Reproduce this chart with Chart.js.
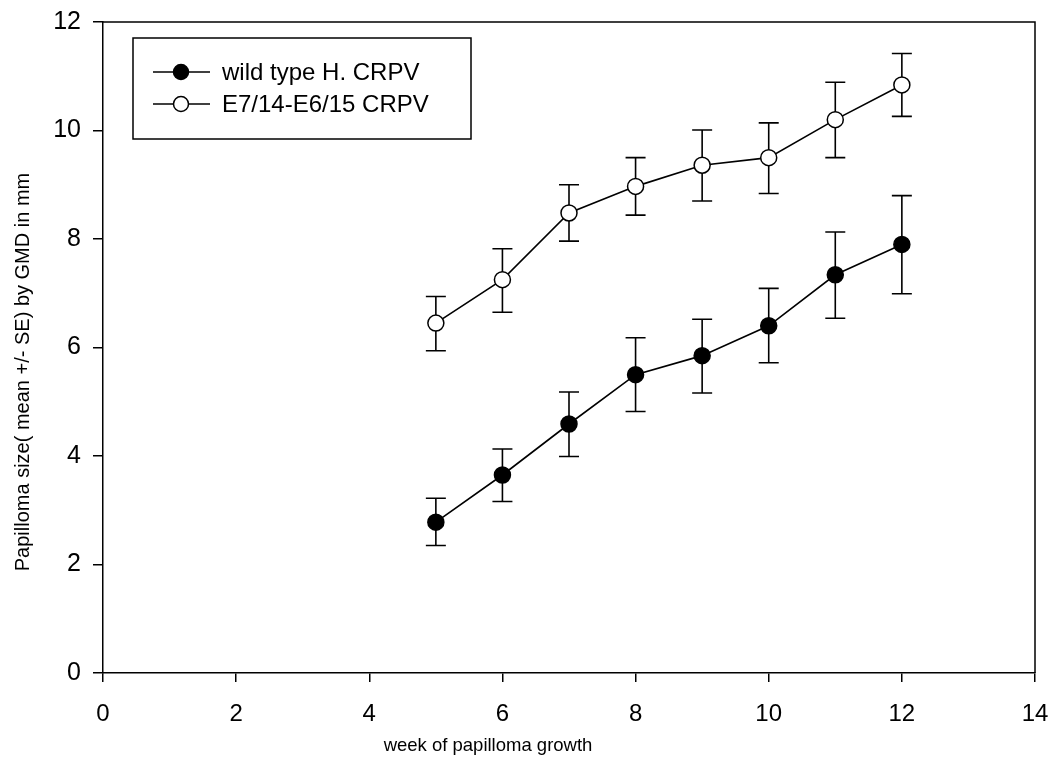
<!DOCTYPE html>
<html>
<head>
<meta charset="utf-8">
<script src="https://cdn.jsdelivr.net/npm/chart.js@4.4.1/dist/chart.umd.min.js"></script>
<style>
  html, body { margin: 0; padding: 0; background: #fff; }
  #wrap { width: 1050px; height: 763px; }
</style>
</head>
<body>
<div id="wrap"><canvas id="chart" width="1050" height="763"></canvas></div>
<script>
// weeks
const weeks = [5, 6, 7, 8, 9, 10, 11, 12];

// wild type H. CRPV
const wildMean = [2.78, 3.65, 4.59, 5.50, 5.85, 6.40, 7.34, 7.90];
const wildHigh = [3.22, 4.13, 5.18, 6.18, 6.52, 7.09, 8.13, 8.80];
const wildLow = [2.35, 3.16, 3.99, 4.82, 5.16, 5.72, 6.54, 6.99];

// E7/14-E6/15 CRPV
const mutMean = [6.45, 7.25, 8.48, 8.97, 9.36, 9.50, 10.20, 10.84];
const mutHigh = [6.94, 7.82, 9.00, 9.50, 10.01, 10.14, 10.89, 11.42];
const mutLow = [5.94, 6.65, 7.96, 8.44, 8.70, 8.84, 9.50, 10.26];

const xTicks = [0, 2, 4, 6, 8, 10, 12, 14];
const yTicks = [0, 2, 4, 6, 8, 10, 12];

const labelFont = "'Liberation Sans', Arial, sans-serif";

function toPoints(xs, ys, lo, hi) {
  return xs.map((x, i) => ({ x: x, y: ys[i], lo: lo[i], hi: hi[i] }));
}

// error bars, drawn under the markers
const errorBars = {
  id: 'errorBars',
  beforeDatasetsDraw(chart) {
    const ctx = chart.ctx;
    const xs = chart.scales.x, ys = chart.scales.y;
    ctx.save();
    ctx.strokeStyle = '#000';
    ctx.lineWidth = 1.6;
    chart.data.datasets.forEach(ds => {
      ds.data.forEach(p => {
        const px = xs.getPixelForValue(p.x);
        const top = ys.getPixelForValue(p.hi);
        const bot = ys.getPixelForValue(p.lo);
        ctx.beginPath();
        ctx.moveTo(px, top); ctx.lineTo(px, bot);
        ctx.moveTo(px - 10, top); ctx.lineTo(px + 10, top);
        ctx.moveTo(px - 10, bot); ctx.lineTo(px + 10, bot);
        ctx.stroke();
      });
    });
    ctx.restore();
  }
};

// frame, legend box and axis titles
const extras = {
  id: 'extras',
  afterDraw(chart) {
    const ctx = chart.ctx;
    const a = chart.chartArea;
    ctx.save();
    ctx.strokeStyle = '#000';
    ctx.lineWidth = 1.5;
    ctx.beginPath();
    ctx.moveTo(a.left, a.top); ctx.lineTo(a.right, a.top); ctx.lineTo(a.right, a.bottom);
    ctx.stroke();

    // legend
    ctx.strokeRect(133, 38, 338, 101);
    const rows = [72, 104];
    chart.data.datasets.forEach((ds, i) => {
      const y = rows[i];
      ctx.beginPath();
      ctx.moveTo(153, y); ctx.lineTo(210, y);
      ctx.stroke();
      ctx.beginPath();
      ctx.arc(181, y, 7.5, 0, Math.PI * 2);
      ctx.fillStyle = ds.pointBackgroundColor;
      ctx.fill();
      ctx.stroke();
      ctx.fillStyle = '#000';
      ctx.font = '24px ' + labelFont;
      ctx.textBaseline = 'middle';
      ctx.textAlign = 'left';
      ctx.fillText(ds.label, 222, y + 1);
    });

    // axis titles
    ctx.fillStyle = '#000';
    ctx.textAlign = 'center';
    ctx.textBaseline = 'middle';
    ctx.font = "18.5px 'Liberation Sans Narrow', " + labelFont;
    ctx.fillText('week of papilloma growth', 488, 746);

    ctx.translate(23, 372);
    ctx.rotate(-Math.PI / 2);
    ctx.font = '20px ' + labelFont;
    ctx.fillText('Papilloma size( mean +/- SE) by GMD in mm', 0, 0);
    ctx.restore();
  }
};

new Chart(document.getElementById('chart'), {
  type: 'line',
  data: {
    datasets: [
      {
        label: 'wild type H. CRPV',
        data: toPoints(weeks, wildMean, wildLow, wildHigh),
        borderColor: '#000',
        borderWidth: 1.6,
        pointBackgroundColor: '#000',
        pointBorderColor: '#000',
        pointBorderWidth: 1.5,
        pointRadius: 8,
        fill: false,
        tension: 0
      },
      {
        label: 'E7/14-E6/15 CRPV',
        data: toPoints(weeks, mutMean, mutLow, mutHigh),
        borderColor: '#000',
        borderWidth: 1.6,
        pointBackgroundColor: '#fff',
        pointBorderColor: '#000',
        pointBorderWidth: 1.5,
        pointRadius: 8,
        fill: false,
        tension: 0
      }
    ]
  },
  options: {
    responsive: false,
    animation: false,
    layout: { padding: { left: 0, top: 22, right: 15, bottom: 0 } },
    plugins: {
      legend: { display: false },
      tooltip: { enabled: false }
    },
    scales: {
      x: {
        type: 'linear',
        min: 0,
        max: 14,
        afterFit: s => { s.height = 90; s.paddingLeft = 0; s.paddingRight = 0; },
        afterBuildTicks: s => { s.ticks = xTicks.map(v => ({ value: v })); },
        grid: { drawOnChartArea: false, drawTicks: true, tickLength: 9, color: '#000', lineWidth: 1.5 },
        border: { display: true, color: '#000', width: 1.5 },
        ticks: {
          color: '#000',
          padding: 18,
          maxRotation: 0,
          font: { family: "'Liberation Sans Narrow', " + labelFont, size: 24 }
        },
        title: { display: false }
      },
      y: {
        min: 0,
        max: 12,
        afterFit: s => { s.width = 103; s.paddingTop = 0; s.paddingBottom = 0; },
        afterBuildTicks: s => { s.ticks = yTicks.map(v => ({ value: v })); },
        grid: { drawOnChartArea: false, drawTicks: true, tickLength: 10, color: '#000', lineWidth: 1.5 },
        border: { display: true, color: '#000', width: 1.5 },
        ticks: {
          color: '#000',
          padding: 12,
          font: { family: labelFont, size: 25 }
        },
        title: { display: false }
      }
    }
  },
  plugins: [errorBars, extras]
});
</script>
</body>
</html>
